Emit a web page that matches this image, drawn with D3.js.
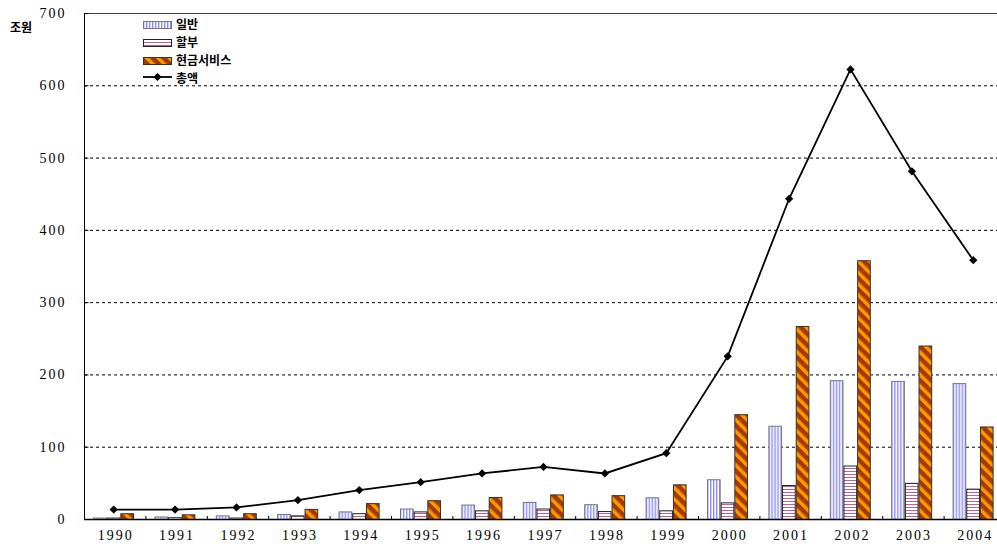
<!DOCTYPE html>
<html>
<head>
<meta charset="utf-8">
<script src="https://cdn.jsdelivr.net/npm/d3@7/dist/d3.min.js"></script>
<style>
  html, body { margin: 0; padding: 0; background: #fff; }
  svg { display: block; }
  .num { font-family: "Liberation Serif", "DejaVu Serif", serif; font-size: 14px; letter-spacing: 2px; fill: #000; }
  .kr { font-family: "Noto Sans CJK KR", sans-serif; font-size: 12px; font-weight: bold; fill: #000; }
</style>
</head>
<body>
<svg id="chart" width="997" height="547"></svg>
<script>
// 신용카드 이용실적 (조원)
const years = ["1990","1991","1992","1993","1994","1995","1996","1997","1998","1999","2000","2001","2002","2003","2004"];
const seriesNames = ["일반", "할부", "현금서비스"];
const general = [2, 3.5, 5, 7, 10.5, 14.5, 20, 23.5, 20.5, 30, 55, 129, 192, 191, 188];
const installment = [2, 2.5, 2, 5, 8, 10.5, 12, 14.5, 11, 12, 23, 47, 74, 50, 42];
const cashService = [8, 6.5, 8, 14, 22, 26, 30.5, 34, 33, 48, 145, 267, 358, 240, 128];
const total = [13, 13, 16, 26, 40, 51, 63, 72, 63, 91, 225, 443, 622, 481, 358];
const yTicks = [0, 100, 200, 300, 400, 500, 600, 700];
const unitLabel = "조원";
const totalName = "총액";

const svg = d3.select("#chart");
const margin = { left: 84, top: 13, bottom: 519, right: 1005 };

const x = d3.scaleBand().domain(years).range([margin.left, margin.right]).padding(0);
const x1 = d3.scaleBand().domain(seriesNames).range([9, 50]).padding(0);
const y = d3.scaleLinear().domain([0, 700]).range([margin.bottom, margin.top]);

// fill patterns
const defs = svg.append("defs");
const pGen = defs.append("pattern").attr("id", "pGen").attr("patternUnits", "userSpaceOnUse")
  .attr("width", 3).attr("height", 3);
pGen.append("rect").attr("width", 3).attr("height", 3).attr("fill", "#ffffff");
pGen.append("rect").attr("x", 0).attr("width", 1).attr("height", 3).attr("fill", "#8c8cff");
pGen.append("rect").attr("x", 1).attr("width", 1).attr("height", 3).attr("fill", "#d0d0ff");

const pIns = defs.append("pattern").attr("id", "pIns").attr("patternUnits", "userSpaceOnUse")
  .attr("width", 3).attr("height", 3);
pIns.append("rect").attr("width", 3).attr("height", 3).attr("fill", "#ffffff");
pIns.append("rect").attr("y", 0).attr("width", 3).attr("height", 1).attr("fill", "#c06090");

const pCash = defs.append("pattern").attr("id", "pCash").attr("patternUnits", "userSpaceOnUse")
  .attr("width", 8).attr("height", 8).attr("patternTransform", "rotate(45)");
pCash.append("rect").attr("width", 8).attr("height", 8).attr("fill", "#ff9900");
pCash.append("rect").attr("width", 8).attr("height", 4.5).attr("fill", "#a33a00");

const fills = { "일반": "url(#pGen)", "할부": "url(#pIns)", "현금서비스": "url(#pCash)" };
const strokes = { "일반": "#777", "할부": "#222", "현금서비스": "#333" };
const values = { "일반": general, "할부": installment, "현금서비스": cashService };

// gridlines
svg.append("g").selectAll("line").data(yTicks.filter(d => d > 0 && d < 700)).join("line")
  .attr("x1", margin.left).attr("x2", 997)
  .attr("y1", d => y(d) + 0.5).attr("y2", d => y(d) + 0.5)
  .attr("stroke", "#000").attr("stroke-width", 1).attr("stroke-dasharray", "3,3");

// plot frame: top and left
svg.append("line").attr("x1", margin.left + 0.5).attr("x2", 997).attr("y1", margin.top + 0.5).attr("y2", margin.top + 0.5)
  .attr("stroke", "#444");
svg.append("line").attr("x1", margin.left + 0.5).attr("x2", margin.left + 0.5).attr("y1", margin.top).attr("y2", margin.bottom)
  .attr("stroke", "#000");

// y axis
const yAxis = d3.axisLeft(y).tickValues(yTicks).tickSize(-4).tickPadding(18).tickFormat(d3.format("d"));
const gy = svg.append("g").attr("transform", `translate(${margin.left + 0.5},0)`).call(yAxis);
gy.select(".domain").remove();
gy.selectAll("line").attr("stroke", "#000");
gy.selectAll("text").attr("class", "num").attr("font-family", null).attr("font-size", null);

// bars
const groups = svg.append("g").selectAll("g").data(years).join("g")
  .attr("transform", d => `translate(${x(d)},0)`);
seriesNames.forEach(name => {
  groups.append("rect")
    .attr("x", x1(name) + 0.5)
    .attr("width", x1.bandwidth() - 1)
    .attr("y", (d, i) => y(values[name][i]) + 0.5)
    .attr("height", (d, i) => Math.max(0, y(0) - y(values[name][i])))
    .attr("fill", fills[name])
    .attr("stroke", strokes[name])
    .attr("stroke-width", 1);
});

// x axis
const xAxis = d3.axisBottom(x).tickSize(0).tickPadding(11);
const gx = svg.append("g").attr("transform", `translate(0,${margin.bottom + 0.5})`).call(xAxis);
gx.select(".domain").attr("d", `M${margin.left},0H997`).attr("stroke", "#000").attr("stroke-width", 1.5);
gx.selectAll("text").attr("class", "num").attr("font-family", null).attr("font-size", null).attr("dx", "1");
// category boundary ticks
svg.append("g").selectAll("line").data(years.slice(1)).join("line")
  .attr("x1", d => x(d) + 0.5).attr("x2", d => x(d) + 0.5)
  .attr("y1", margin.bottom - 3).attr("y2", margin.bottom)
  .attr("stroke", "#000");

// total line with diamond markers
const marker = d3.symbol(d3.symbolSquare, 34)();
const cx = (d) => x(d) + x.bandwidth() / 2 - 1;
const line = d3.line().x((d, i) => cx(years[i])).y(d => y(d));
svg.append("path").datum(total).attr("d", line)
  .attr("fill", "none").attr("stroke", "#000").attr("stroke-width", 1.8);
svg.append("g").selectAll("path").data(total).join("path")
  .attr("transform", (d, i) => `translate(${cx(years[i])},${y(d)}) rotate(45)`)
  .attr("d", marker)
  .attr("fill", "#000");

// unit label
svg.append("text").attr("class", "kr").attr("x", 10).attr("y", 32).text(unitLabel);

// legend
const lg = svg.append("g").attr("transform", "translate(143,0)");
const legendRows = [
  { name: "일반", y: 21 },
  { name: "할부", y: 39 },
  { name: "현금서비스", y: 57 }
];
legendRows.forEach(r => {
  lg.append("rect").attr("x", 0.5).attr("y", r.y + 0.5).attr("width", 28).attr("height", 7)
    .attr("fill", fills[r.name]).attr("stroke", strokes[r.name]);
  lg.append("text").attr("class", "kr").attr("x", 33).attr("y", r.y + 8).text(r.name);
});
lg.append("line").attr("x1", 0).attr("x2", 29).attr("y1", 77).attr("y2", 77).attr("stroke", "#000").attr("stroke-width", 1.8);
lg.append("path").attr("transform", "translate(14.5,77) rotate(45)").attr("d", marker).attr("fill", "#000");
lg.append("text").attr("class", "kr").attr("x", 33).attr("y", 83).text(totalName);
</script>
</body>
</html>
